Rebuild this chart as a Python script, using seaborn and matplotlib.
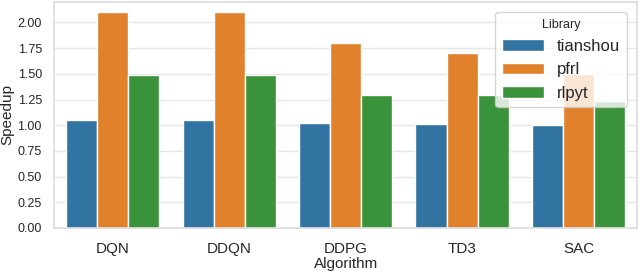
import matplotlib
matplotlib.use("Agg")
import seaborn as sns
import matplotlib.pyplot as plt
import pandas as pd

algorithms = ["DQN", "DDQN", "DDPG", "TD3", "SAC"]
libraries = ["tianshou", "pfrl", "rlpyt"]
tianshou = [1.05, 1.05, 1.02, 1.01, 1.00]
pfrl = [2.10, 2.10, 1.80, 1.70, 1.50]
rlpyt = [1.49, 1.49, 1.29, 1.29, 1.24]

rows = []
for lib, vals in zip(libraries, [tianshou, pfrl, rlpyt]):
    for alg, v in zip(algorithms, vals):
        rows.append({"Algorithm": alg, "Library": lib, "Speedup": v})
df = pd.DataFrame(rows)

sns.set_theme(style="whitegrid", rc={"grid.color": "#e6e6e6", "axes.edgecolor": "#dddddd"})
plt.rcParams["font.family"] = ["Liberation Sans", "DejaVu Sans"]
fig, ax = plt.subplots(figsize=(6.4, 2.72), dpi=100)
sns.barplot(data=df, x="Algorithm", y="Speedup", hue="Library", palette="tab10", ax=ax)
ax.set_ylim(0, 2.2)
ax.set_yticks([0, 0.25, 0.5, 0.75, 1.0, 1.25, 1.5, 1.75, 2.0])
ax.tick_params(axis="y", labelsize=9, pad=3)
ax.tick_params(axis="x", labelsize=11, pad=4)
ax.set_xlabel("Algorithm", fontsize=11, labelpad=1)
ax.set_ylabel("Speedup", fontsize=11, labelpad=2)
leg = ax.legend(title="Library", loc="upper right", fontsize=12, title_fontsize=9,
                handlelength=2.5, borderaxespad=0.6)
plt.subplots_adjust(left=0.085, right=0.995, top=0.993, bottom=0.162)
plt.savefig("out.png")
